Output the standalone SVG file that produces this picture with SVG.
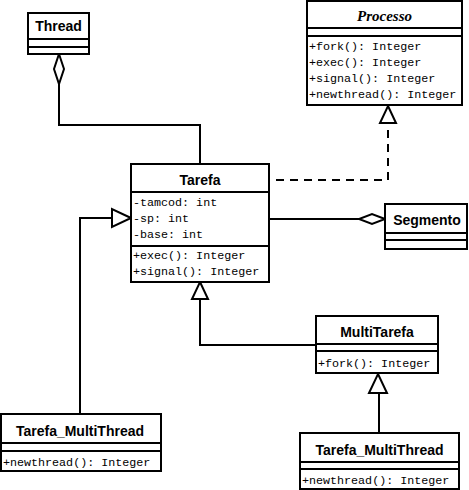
<svg xmlns="http://www.w3.org/2000/svg" width="469" height="490" viewBox="0 0 469 490">
<style>
.box{fill:#fff;stroke:#000;stroke-width:2}
.sep{stroke:#000;stroke-width:2}
.t{font-family:"Liberation Sans",Arial,sans-serif;font-weight:bold;font-size:14px;text-anchor:middle;fill:#000}
.ti{font-family:"Liberation Serif","Times New Roman",serif;font-weight:bold;font-style:italic;font-size:15px;text-anchor:middle;fill:#000}
.m{font-family:"Liberation Mono","Courier New",monospace;font-size:11.7px;fill:#000}
.c{fill:none;stroke:#000;stroke-width:2}
.d{fill:none;stroke:#000;stroke-width:2;stroke-dasharray:8 6}
.tri{fill:#fff;stroke:#000;stroke-width:2}
</style>
<rect width="469" height="490" fill="#fff"/>
<g id="connectors">
<path class="c" d="M59,84 V125 H200 V164"/>
<polygon class="tri" points="59,54 64,69 59,84 54,69"/>
<path class="d" d="M276,180 H388 V123"/>
<polygon class="tri" points="388,106 396,123 380,123"/>
<path class="c" d="M269,219 H359"/>
<polygon class="tri" points="385,219 372,214 359,219 372,224"/>
<path class="c" d="M80,414 V218 H112"/>
<polygon class="tri" points="131,218 112,209 112,227"/>
<path class="c" d="M316,345 H200 V299"/>
<polygon class="tri" points="200,282 208,299 192,299"/>
<path class="c" d="M379,433 V393"/>
<polygon class="tri" points="378,374 387,393 369,393"/>
</g>
<g id="Thread">
<rect class="box" x="28" y="13" width="61" height="41"/>
<line class="sep" x1="28" y1="39" x2="89" y2="39"/>
<line class="sep" x1="28" y1="47" x2="89" y2="47"/>
<text class="t" x="58.5" y="31">Thread</text>
</g>
<g id="Processo">
<rect class="box" x="307" y="1" width="155" height="104"/>
<line class="sep" x1="307" y1="28" x2="462" y2="28"/>
<line class="sep" x1="307" y1="36" x2="462" y2="36"/>
<text class="ti" x="384.5" y="21">Processo</text>
<text class="m" x="309" y="50">+fork(): Integer</text>
<text class="m" x="309" y="66">+exec(): Integer</text>
<text class="m" x="309" y="82">+signal(): Integer</text>
<text class="m" x="309" y="98">+newthread(): Integer</text>
</g>
<g id="Tarefa">
<rect class="box" x="131" y="164" width="138" height="118"/>
<line class="sep" x1="131" y1="192" x2="269" y2="192"/>
<line class="sep" x1="131" y1="246" x2="269" y2="246"/>
<text class="t" x="200" y="185">Tarefa</text>
<text class="m" x="133" y="206">-tamcod: int</text>
<text class="m" x="133" y="222">-sp: int</text>
<text class="m" x="133" y="238">-base: int</text>
<text class="m" x="133" y="259">+exec(): Integer</text>
<text class="m" x="133" y="275">+signal(): Integer</text>
</g>
<g id="Segmento">
<rect class="box" x="385" y="204" width="82" height="45"/>
<line class="sep" x1="385" y1="233" x2="467" y2="233"/>
<line class="sep" x1="385" y1="240" x2="467" y2="240"/>
<text class="t" x="427" y="225">Segmento</text>
</g>
<g id="MultiTarefa">
<rect class="box" x="316" y="316" width="122" height="57"/>
<line class="sep" x1="316" y1="344" x2="438" y2="344"/>
<line class="sep" x1="316" y1="351" x2="438" y2="351"/>
<text class="t" x="377" y="337">MultiTarefa</text>
<text class="m" x="318" y="367">+fork(): Integer</text>
</g>
<g id="Tarefa_MultiThread_left">
<rect class="box" x="1" y="414" width="160" height="57"/>
<line class="sep" x1="1" y1="443" x2="161" y2="443"/>
<line class="sep" x1="1" y1="451" x2="161" y2="451"/>
<text class="t" x="80" y="436">Tarefa_MultiThread</text>
<text class="m" x="3" y="466">+newthread(): Integer</text>
</g>
<g id="Tarefa_MultiThread_right">
<rect class="box" x="300" y="433" width="159" height="56"/>
<line class="sep" x1="300" y1="462" x2="459" y2="462"/>
<line class="sep" x1="300" y1="469" x2="459" y2="469"/>
<text class="t" x="379.5" y="455">Tarefa_MultiThread</text>
<text class="m" x="302" y="484">+newthread(): Integer</text>
</g>
</svg>
